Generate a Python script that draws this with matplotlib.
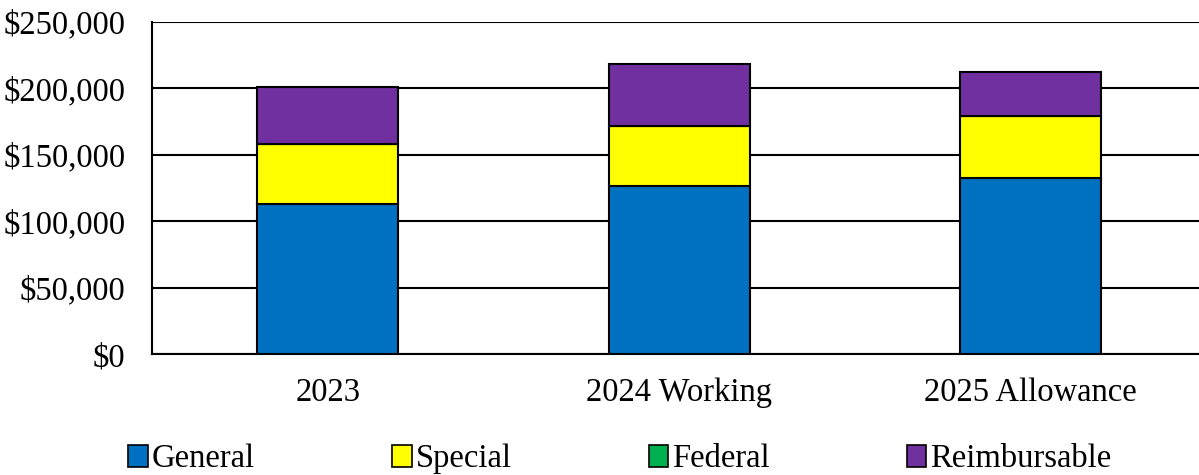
import matplotlib
matplotlib.use("Agg")
import matplotlib.pyplot as plt
from matplotlib.ticker import FuncFormatter
from matplotlib.patches import Patch
import numpy as np

categories = ["2023", "2024 Working", "2025 Allowance"]
general = [112800, 126300, 132350]
special = [45350, 45150, 46850]
federal = [0, 0, 0]
reimbursable = [43100, 46850, 32850]

series_names = ["General", "Special", "Federal", "Reimbursable"]
series_colors = ["#0070C0", "#FFFF00", "#00B050", "#7030A0"]
yticks = [0, 50000, 100000, 150000, 200000, 250000]

plt.rcParams["font.family"] = ["Liberation Serif", "DejaVu Serif"]

fig = plt.figure(figsize=(11.99, 4.75), dpi=100)
ax = fig.add_axes([152 / 1199, 1 - 354.3 / 475, 1054.5 / 1199, 332.3 / 475])

x = np.arange(len(categories))
bottom = np.zeros(len(categories))
for name, vals, col in zip(series_names, [general, special, federal, reimbursable], series_colors):
    vals = np.array(vals, dtype=float)
    ax.bar(x, vals, width=0.4, bottom=bottom, color=col, edgecolor="black",
           linewidth=1.5, zorder=3, label=name)
    bottom += vals

ax.set_xlim(-0.5, len(categories) - 0.5)
ax.set_ylim(0, 250000)
ax.set_yticks(yticks)
ax.yaxis.set_major_formatter(FuncFormatter(lambda v, p: f"${v:,.0f}"))
ax.set_xticks(x)
ax.set_xticklabels(categories)
ax.tick_params(axis="both", length=0, labelsize=23.5, colors="black")
ax.tick_params(axis="y", pad=19)
ax.tick_params(axis="x", pad=17)
ax.yaxis.grid(True, color="black", linewidth=1.5, zorder=0)
ax.set_axisbelow(True)
for s in ["top", "right"]:
    ax.spines[s].set_visible(False)
for s in ["left", "bottom"]:
    ax.spines[s].set_linewidth(1.5)
    ax.spines[s].set_color("black")

handles = [Patch(facecolor=c, edgecolor="black", linewidth=1.2) for c in series_colors]
fig.legend(handles, series_names, loc="center", bbox_to_anchor=(0.517, 1 - 459 / 475),
           ncol=4, frameon=False, fontsize=23.5, handlelength=0.6, handleheight=0.65,
           handletextpad=0.12, columnspacing=4.2)

fig.savefig("out.png", dpi=100)
